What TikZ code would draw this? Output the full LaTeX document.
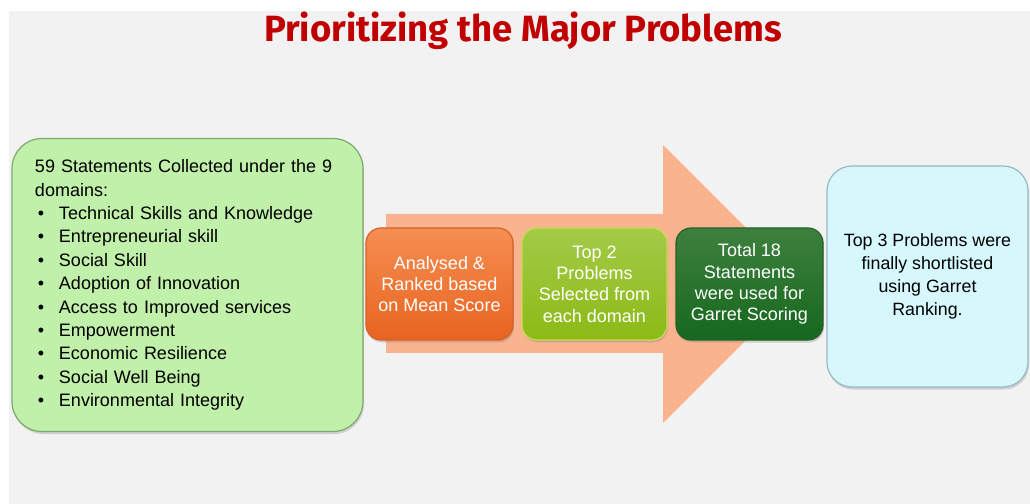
\documentclass[tikz,border=0pt]{standalone}
\usepackage{fontspec}
\setmainfont{Liberation Sans}
\newfontfamily\titlefont{Fira Sans}
\usepackage{tikz}
\usetikzlibrary{shadows}
\definecolor{slide}{RGB}{242,242,242}
\definecolor{titlered}{RGB}{192,0,0}
\definecolor{leaf}{RGB}{193,240,170}
\definecolor{leafedge}{RGB}{128,168,110}
\definecolor{salmon}{RGB}{249,179,142}
\definecolor{orangetop}{RGB}{246,142,82}
\definecolor{orangebot}{RGB}{232,100,32}
\definecolor{orangeedge}{RGB}{214,96,40}
\definecolor{limetop}{RGB}{164,202,72}
\definecolor{limebot}{RGB}{140,186,22}
\definecolor{limeedge}{RGB}{196,222,84}
\definecolor{foresttop}{RGB}{62,128,62}
\definecolor{forestbot}{RGB}{22,104,30}
\definecolor{forestedge}{RGB}{38,96,40}
\definecolor{ice}{RGB}{214,248,252}
\definecolor{iceedge}{RGB}{150,186,196}

\begin{document}
\begin{tikzpicture}[x=1bp, y=-1bp,
        panel/.style={draw, line width=1.2bp, inner sep=0pt, drop shadow={shadow xshift=1bp, shadow yshift=-2.5bp, opacity=0.3}},
        stepbox/.style={panel, rounded corners=15bp, minimum width=147bp, minimum height=112bp, align=center, text=white, font=\fontsize{18bp}{21.3bp}\selectfont}]
    \useasboundingbox (0,0) rectangle (1030,504);
    \fill[white] (0,0) rectangle (1030,504);
    \fill[slide] (9,11) rectangle (1030,504);
    \node[anchor=base, text=titlered, font=\titlefont\bfseries\fontsize{36.5bp}{36.5bp}\selectfont] at (523,42) (title) {Prioritizing the Major Problems};
    \node[panel, rounded corners=30bp, fill=leaf, draw=leafedge, minimum width=351bp, minimum height=293bp, text width=305bp, align=left, font=\fontsize{18bp}{23.4bp}\selectfont] at (187.5,285) (domains) {59 Statements Collected under the 9\\domains:\\
        \hspace*{3bp}\makebox[21bp][l]{\textbullet}Technical Skills and Knowledge\\
        \hspace*{3bp}\makebox[21bp][l]{\textbullet}Entrepreneurial skill\\
        \hspace*{3bp}\makebox[21bp][l]{\textbullet}Social Skill\\
        \hspace*{3bp}\makebox[21bp][l]{\textbullet}Adoption of Innovation\\
        \hspace*{3bp}\makebox[21bp][l]{\textbullet}Access to Improved services\\
        \hspace*{3bp}\makebox[21bp][l]{\textbullet}Empowerment\\
        \hspace*{3bp}\makebox[21bp][l]{\textbullet}Economic Resilience\\
        \hspace*{3bp}\makebox[21bp][l]{\textbullet}Social Well Being\\
        \hspace*{3bp}\makebox[21bp][l]{\textbullet}Environmental Integrity};
    \fill[salmon] (386,214) -- (663,214) -- (663,145) -- (802,284) -- (663,423) -- (663,353) -- (386,353) -- cycle;
    \node[stepbox, top color=orangetop, bottom color=orangebot, draw=orangeedge] at (439.5,284) (ranked) {Analysed \&\\Ranked based\\on Mean Score};
    \node[stepbox, minimum width=145bp, top color=limetop, bottom color=limebot, draw=limeedge] at (594.5,284) (toptwo) {Top 2\\Problems\\Selected from\\each domain};
    \node[stepbox, top color=foresttop, bottom color=forestbot, draw=forestedge] at (749.5,284) (garret) {Total 18\\Statements\\were used for\\Garret Scoring};
    \node[panel, rounded corners=25bp, fill=ice, draw=iceedge, minimum width=201bp, minimum height=221bp, align=center, font=\fontsize{17.8bp}{23bp}\selectfont] at (927.5,276.5) (final) {Top 3 Problems were\\finally shortlisted\\using Garret\\Ranking.};
\end{tikzpicture}
\end{document}
